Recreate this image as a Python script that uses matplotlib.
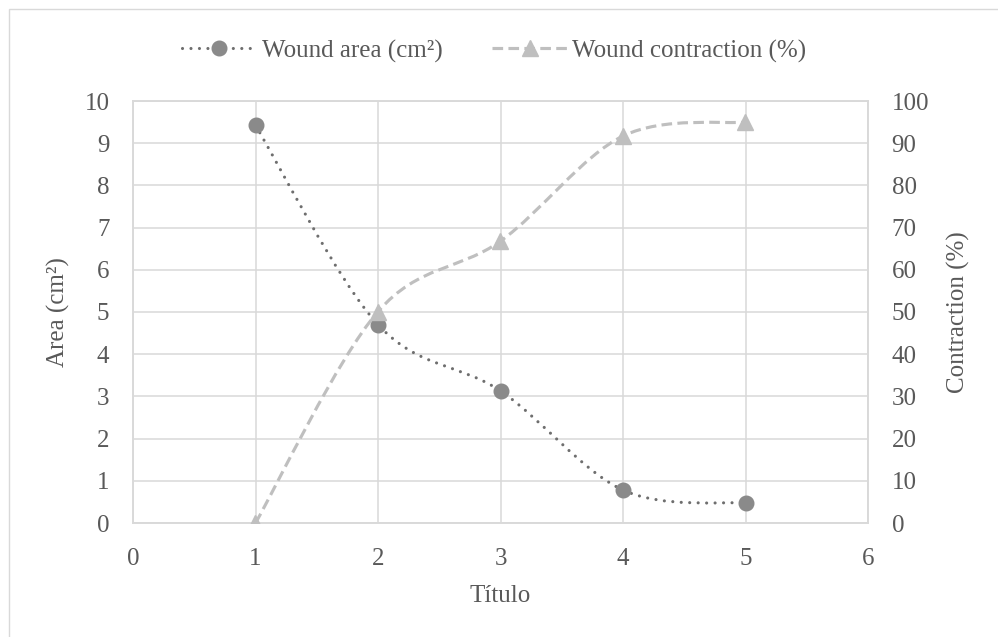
import matplotlib
matplotlib.use("Agg")
import matplotlib.pyplot as plt
import numpy as np
from matplotlib.lines import Line2D
from matplotlib.patches import PathPatch, Rectangle
from matplotlib.path import Path

# data
days = [1, 2, 3, 4, 5]
wound_area = [9.42, 4.70, 3.13, 0.78, 0.47]
contraction = [0.0, 50.1, 66.8, 91.7, 95.0]

x_ticks = [0, 1, 2, 3, 4, 5, 6]
area_ticks = list(range(0, 11))
contr_ticks = list(range(0, 101, 10))

TEXT = "#595959"
GRID = "#D9D9D9"
AREA_LINE = "#6E6E6E"
AREA_MARK = "#8A8A8A"
CONTR = "#BFBFBF"
FS = 18

plt.rcParams["font.family"] = ["Liberation Serif", "DejaVu Serif"]
plt.rcParams["font.size"] = FS


def smooth_path(xs, ys):
    # Excel-style smoothed line: cubic bezier with neighbour-based control points
    xs = np.asarray(xs, dtype=float)
    ys = np.asarray(ys, dtype=float)
    pts = np.column_stack([xs, ys])
    n = len(pts)
    verts = [pts[0]]
    codes = [Path.MOVETO]
    for i in range(n - 1):
        p0 = pts[i - 1] if i > 0 else pts[i]
        p1 = pts[i]
        p2 = pts[i + 1]
        p3 = pts[i + 2] if i + 2 < n else pts[i + 1]
        c1 = p1 + (p2 - p0) / 6.0
        c2 = p2 - (p3 - p1) / 6.0
        verts += [c1, c2, p2]
        codes += [Path.CURVE4] * 3
    return Path(verts, codes)


fig = plt.figure(figsize=(9.98, 6.37), dpi=100)
ax = fig.add_axes([133 / 998, 1 - 523 / 637, (868 - 133) / 998, (523 - 101) / 637])
ax2 = ax.twinx()

# outer chart border (only left/top visible in the crop)
fig.patches.append(
    Rectangle((9 / 998, -0.1), 1.2, 1 - 9 / 637 + 0.1, transform=fig.transFigure,
              fill=False, edgecolor=GRID, linewidth=1.0, zorder=0)
)

dot_style = (0, (0.01, 2.7))
dash_style = (0, (3.4, 1.7))

area_patch = PathPatch(smooth_path(days, wound_area), fill=False, edgecolor=AREA_LINE,
                       linewidth=2.25, linestyle=dot_style, capstyle="round", zorder=3)
ax.add_patch(area_patch)
ax.plot(days, wound_area, linestyle="none", marker="o", markersize=10.5,
        color=AREA_MARK, zorder=4)

contr_patch = PathPatch(smooth_path(days, contraction), fill=False, edgecolor=CONTR,
                        linewidth=2.25, linestyle=dash_style, capstyle="butt", zorder=3)
ax2.add_patch(contr_patch)
ax2.plot(days, contraction, linestyle="none", marker="^", markersize=11,
         color=CONTR, zorder=4)

ax.set_xlim(0, 6)
ax.set_ylim(0, 10)
ax2.set_ylim(0, 100)
ax.set_xticks(x_ticks)
ax.set_yticks(area_ticks)
ax2.set_yticks(contr_ticks)

ax.grid(True, color=GRID, linewidth=1.1)
ax.set_axisbelow(True)
for a in (ax, ax2):
    for s in a.spines.values():
        s.set_color(GRID)
        s.set_linewidth(1.1)
    a.tick_params(length=0, colors=TEXT, labelsize=FS)
ax.tick_params(axis="y", pad=17)
ax.tick_params(axis="x", pad=18)
ax2.tick_params(axis="y", pad=17)

ax.set_xlabel("Título", color=TEXT, fontsize=FS, labelpad=11)
ax.set_ylabel("Area (cm²)", color=TEXT, fontsize=FS, labelpad=10)
ax2.set_ylabel("Contraction (%)", color=TEXT, fontsize=FS, labelpad=13)

handles = [
    Line2D([], [], color=AREA_LINE, linewidth=2.25, linestyle=dot_style,
           dash_capstyle="round", marker="o", markersize=10.5,
           markerfacecolor=AREA_MARK, markeredgecolor=AREA_MARK),
    Line2D([], [], color=CONTR, linewidth=2.25, linestyle=dash_style,
           marker="^", markersize=11, markerfacecolor=CONTR, markeredgecolor=CONTR),
]
leg = fig.legend(handles, ["Wound area (cm²)", "Wound contraction (%)"],
                 loc="center", bbox_to_anchor=(0.495, 1 - 51 / 637), ncol=2,
                 frameon=False, handlelength=3.0, handletextpad=0.2,
                 columnspacing=2.0, fontsize=FS)
for t in leg.get_texts():
    t.set_color(TEXT)

fig.savefig("out.png", dpi=100)
